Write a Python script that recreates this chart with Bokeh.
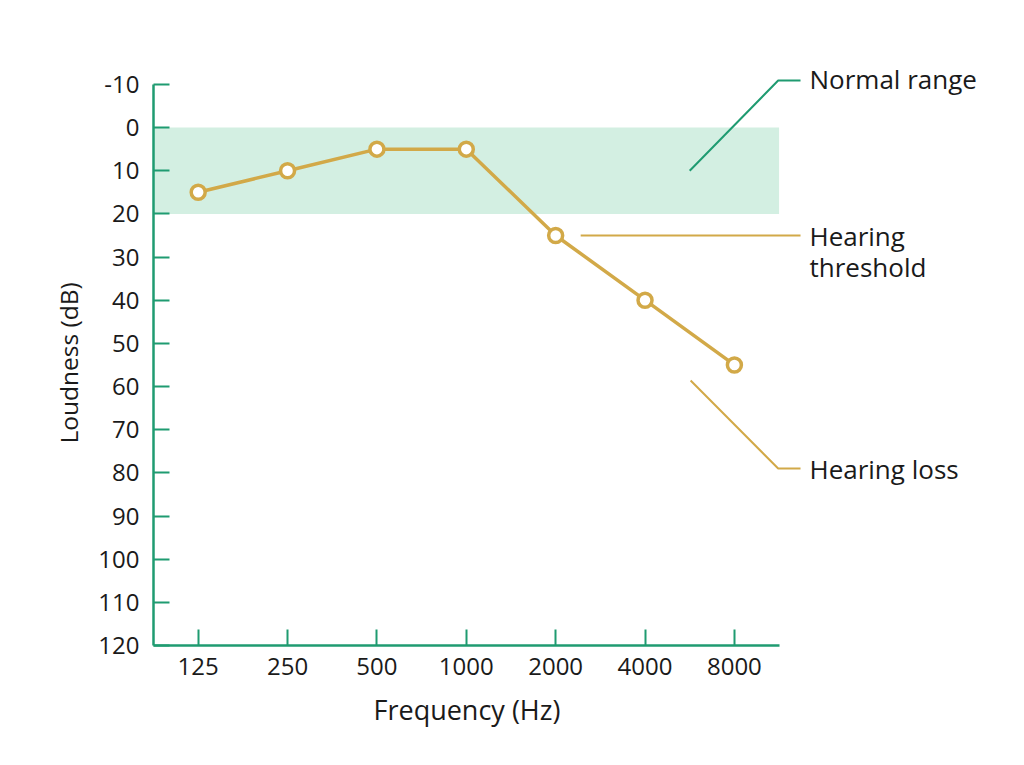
from bokeh.plotting import figure
from bokeh.models import Range1d, FixedTicker, Title
from bokeh.core.properties import value
from bokeh.embed import file_html
from bokeh.resources import INLINE

# Data
freqs = ["125", "250", "500", "1000", "2000", "4000", "8000"]
loudness = [15, 10, 5, 5, 25, 40, 55]
y_ticks = [-10, 0, 10, 20, 30, 40, 50, 60, 70, 80, 90, 100, 110, 120]
normal_low, normal_high = 0, 20

GREEN = "#1f9b71"
GOLD = "#d2a948"
BAND = "#d3efe2"
TXT = "#1a1a1a"
FONT = "Open Sans"

xs = list(range(len(freqs)))

p = figure(width=1024, height=765, output_backend="svg", toolbar_location=None,
           x_range=Range1d(-0.5, 9.0), y_range=Range1d(120, -16),
           min_border_left=153, min_border_right=22, min_border_top=58,
           min_border_bottom=120)
p.outline_line_color = None
p.grid.visible = False
p.background_fill_color = "white"
p.border_fill_color = "white"

# Normal range band
p.quad(left=[-0.5], right=[len(freqs) - 0.5], bottom=[normal_high], top=[normal_low],
       fill_color=BAND, line_color=None)

# Data line and markers
p.line(xs, loudness, line_color=GOLD, line_width=3.5)
p.scatter(xs, loudness, size=14, fill_color="white", line_color=GOLD, line_width=3.5)

# Annotation leader lines
p.line([5.5, 6.49, 6.74], [10, -10.9, -10.9], line_color=GREEN, line_width=2)
p.line([4.28, 6.74], [loudness[4], loudness[4]], line_color=GOLD, line_width=2)
p.line([5.51, 6.49, 6.74], [58.6, 79, 79], line_color=GOLD, line_width=2)

p.text(x=[6.84, 6.84, 6.84, 6.84], y=[-11.2, 25.2, 32.4, 79],
       text=["Normal range", "Hearing", "threshold", "Hearing loss"],
       text_font=value(FONT), text_font_size="26px", text_color=TXT,
       text_baseline="middle", text_align="left")

# Axes
xa = p.xaxis[0]
xa.bounds = (-0.5, len(freqs) - 0.5)
xa.ticker = FixedTicker(ticks=xs)
xa.major_label_overrides = {i: f for i, f in enumerate(freqs)}
xa.minor_tick_line_color = None
xa.major_tick_in = 16
xa.major_tick_out = 0
xa.axis_line_color = GREEN
xa.axis_line_width = 2.5
xa.major_tick_line_color = GREEN
xa.major_tick_line_width = 2
xa.major_label_text_font = FONT
xa.major_label_text_font_size = "24px"
xa.major_label_text_color = TXT
xa.major_label_standoff = 12

ya = p.yaxis[0]
ya.bounds = (-10, 120)
ya.ticker = FixedTicker(ticks=y_ticks)
ya.major_label_overrides = {t: str(t) for t in y_ticks}
ya.minor_tick_line_color = None
ya.major_tick_in = 16
ya.major_tick_out = 0
ya.axis_line_color = GREEN
ya.axis_line_width = 2.5
ya.major_tick_line_color = GREEN
ya.major_tick_line_width = 2
ya.major_label_text_font = FONT
ya.major_label_text_font_size = "24px"
ya.major_label_text_color = TXT
ya.major_label_standoff = 14

p.add_layout(Title(text="Loudness (dB)", align="left", offset=202, text_font=FONT,
                   text_font_size="24.5px", text_font_style="normal",
                   text_color=TXT, standoff=21), "left")
p.add_layout(Title(text="Frequency (Hz)", align="left", offset=220, text_font=FONT,
                   text_font_size="27px", text_font_style="normal",
                   text_color=TXT, standoff=23), "below")

open("out.html", "w").write(file_html(p, INLINE))
